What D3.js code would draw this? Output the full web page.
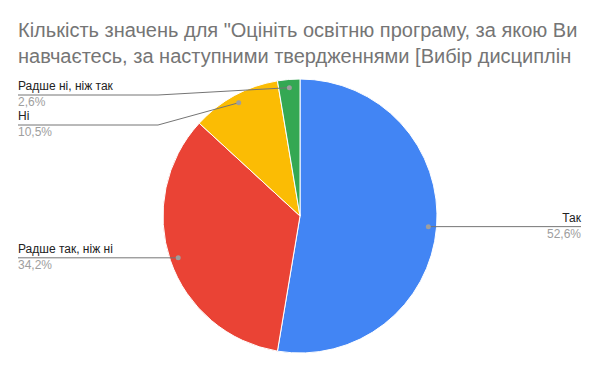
<!DOCTYPE html>
<html>
<head>
<meta charset="utf-8">
<script src="https://cdn.jsdelivr.net/npm/d3@7"></script>
<style>
  body { margin: 0; background: #fff; }
  svg { display: block; font-family: Arial, "Liberation Sans", sans-serif; }
</style>
</head>
<body>
<svg id="chart"></svg>
<script>
const width = 600;
const height = 371;

// дані
const categories = ["Так", "Радше так, ніж ні", "Ні", "Радше ні, ніж так"];
const counts = [20, 13, 4, 1];
const percentLabels = ["52,6%", "34,2%", "10,5%", "2,6%"];
const colors = ["#4285f4", "#ea4335", "#fbbc04", "#34a853"];
const titleLines = [
  "Кількість значень для \"Оцініть освітню програму, за якою Ви",
  "навчаєтесь, за наступними твердженнями [Вибір дисциплін"
];

const svg = d3.select("#chart").attr("width", width).attr("height", height);

// заголовок
svg.append("g").selectAll("text")
  .data(titleLines)
  .join("text")
  .attr("x", 18)
  .attr("y", (d, i) => 37 + i * 26)
  .attr("font-size", 20)
  .attr("fill", "#757575")
  .text(d => d);

const cx = 300, cy = 216, r = 137;

const pie = d3.pie().sort(null).value(d => d.v);
const arcs = pie(categories.map((c, i) => ({ c, v: counts[i], i })));
const arc = d3.arc().innerRadius(0).outerRadius(r);
const dotArc = d3.arc().innerRadius(r * 0.94).outerRadius(r * 0.94);

const g = svg.append("g").attr("transform", `translate(${cx},${cy})`);

g.selectAll("path")
  .data(arcs)
  .join("path")
  .attr("d", arc)
  .attr("fill", d => colors[d.data.i])
  .attr("stroke", "#fff")
  .attr("stroke-width", 1);

// позиції підписів
const labelPos = [
  { side: "right", x: 581, y: 226 },
  { side: "left", x: 18, y: 257 },
  { side: "left", x: 18, y: 125, elbow: 158 },
  { side: "left", x: 18, y: 95, elbow: 158 }
];

const lg = svg.append("g");

arcs.forEach((a, k) => {
  const [dx, dy] = dotArc.centroid(a);
  const px = cx + dx, py = cy + dy;
  const lp = labelPos[k];
  let pts;
  if (lp.elbow) {
    pts = [[lp.x, lp.y], [lp.elbow, lp.y], [px, py]];
  } else {
    pts = [[lp.x, py], [px, py]];
  }
  const ly = lp.elbow ? lp.y : py;
  lg.append("path")
    .attr("d", d3.line()(pts))
    .attr("fill", "none")
    .attr("stroke", "#757575")
    .attr("stroke-width", 1);
  lg.append("circle")
    .attr("cx", px).attr("cy", py).attr("r", 2.5)
    .attr("fill", "#9e9e9e");
  const anchor = lp.side === "right" ? "end" : "start";
  lg.append("text")
    .attr("x", lp.x).attr("y", ly - 5)
    .attr("text-anchor", anchor)
    .attr("font-size", 12)
    .attr("fill", "#222")
    .text(categories[k]);
  lg.append("text")
    .attr("x", lp.x).attr("y", ly + 11)
    .attr("text-anchor", anchor)
    .attr("font-size", 12)
    .attr("fill", "#9e9e9e")
    .text(percentLabels[k]);
});
</script>
</body>
</html>
